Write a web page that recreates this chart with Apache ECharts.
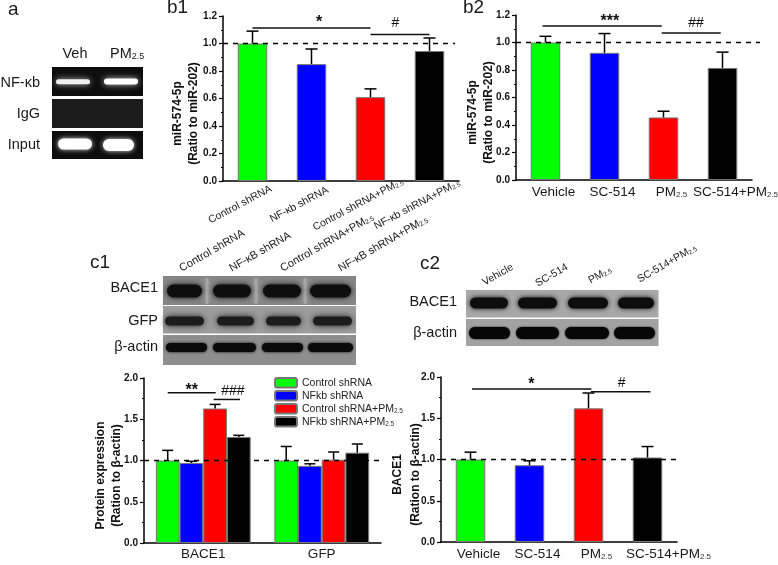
<!DOCTYPE html>
<html><head><meta charset="utf-8">
<style>html,body{margin:0;padding:0;background:#fff}#c{width:778px;height:565px}</style>
<script src="https://cdn.jsdelivr.net/npm/echarts@6/dist/echarts.min.js"></script>
</head><body><div id="c"></div>
<script>
const FONT = 'Liberation Sans';
const barColors = ['#00ff00', '#0000ff', '#ff0000', '#000000'];

// panel b1
const b1Categories = ['Control shRNA', 'NF-κb shRNA', 'Control shRNA+PM2.5', 'NF-κb shRNA+PM2.5'];
const b1Values = [1.0, 0.85, 0.61, 0.945];
const b1Upper = [1.09, 0.96, 0.67, 1.04];
// panel b2
const b2Categories = ['Vehicle', 'SC-514', 'PM2.5', 'SC-514+PM2.5'];
const b2Values = [1.0, 0.925, 0.455, 0.815];
const b2Upper = [1.045, 1.065, 0.5, 0.93];
// panel c1
const c1Categories = ['BACE1', 'GFP'];
const c1Series = ['Control shRNA', 'NFkb shRNA', 'Control shRNA+PM2.5', 'NFkb shRNA+PM2.5'];
const c1Control = [1.0, 1.0];
const c1Nfkb = [0.97, 0.935];
const c1ControlPm = [1.63, 1.01];
const c1NfkbPm = [1.285, 1.095];
const c1ControlUp = [1.123, 1.17];
const c1NfkbUp = [0.99, 0.96];
const c1ControlPmUp = [1.68, 1.103];
const c1NfkbPmUp = [1.305, 1.2];
// panel c2
const c2Categories = ['Vehicle', 'SC-514', 'PM2.5', 'SC-514+PM2.5'];
const c2Values = [1.0, 0.93, 1.62, 1.024];
const c2Upper = [1.089, 0.984, 1.806, 1.157];

// significance brackets: from category, to category, value, label category, label value, label
const b1Brackets = [[0, 2, 1.113, 1.13, 1.165, '*'], [2, 3, 1.066, 2.42, 1.15, '#']];
const b2Brackets = [[-0.05, 1.97, 1.12, 1.09, 1.17, '***'], [1.97, 2.97, 1.069, 2.55, 1.14, '##']];
const c1Brackets = [[-0.3, 0.105, 1.82, -0.098, 1.87, '**'], [0.088, 0.31, 1.74, 0.25, 1.84, '###']];
const c2Brackets = [[0.025, 2.05, 1.855, 1.03, 1.93, '*'], [2.04, 3.05, 1.82, 2.56, 1.93, '#']];

const pm = s => s.replace('PM2.5', 'PM{sub|2.5}');

function xOf(api, c) { return api.coord([0, 0])[0] + c * api.size([1, 0])[0]; }
const LINE = {stroke: '#000', lineWidth: 1.5};

function errorSeries(gridIndex, xs, bases, tops, cap) {
  return {
    type: 'custom', xAxisIndex: gridIndex, yAxisIndex: gridIndex, z: 5, silent: true,
    data: tops.map((t, i) => [0, t]),
    encode: {x: 0, y: 1},
    renderItem(params, api) {
      const i = params.dataIndex, x = xOf(api, xs[i]);
      const yb = api.coord([0, bases[i]])[1], yt = api.coord([0, tops[i]])[1];
      return {type: 'group', children: [
        {type: 'line', shape: {x1: x, y1: yb, x2: x, y2: yt}, style: LINE},
        {type: 'line', shape: {x1: x - cap, y1: yt, x2: x + cap, y2: yt}, style: LINE}
      ]};
    }
  };
}
function refSeries(gridIndex, extra) {
  return {
    type: 'custom', xAxisIndex: gridIndex, yAxisIndex: gridIndex, z: 6, silent: true,
    data: [[0, 1]], encode: {x: 0, y: 1},
    renderItem(params, api) {
      const y = api.coord([0, 1])[1], cs = params.coordSys;
      return {type: 'line', shape: {x1: cs.x, y1: y, x2: cs.x + cs.width + extra, y2: y},
        style: {stroke: '#000', lineWidth: 1.5, lineDash: [5, 5]}};
    }
  };
}
function bracketSeries(gridIndex, list) {
  return {
    type: 'custom', xAxisIndex: gridIndex, yAxisIndex: gridIndex, z: 6, silent: true,
    data: list.map(b => [0, b[2]]), encode: {x: 0, y: 1},
    renderItem(params, api) {
      const b = list[params.dataIndex];
      const y = api.coord([0, b[2]])[1];
      const star = b[5].includes('*');
      return {type: 'group', children: [
        {type: 'line', shape: {x1: xOf(api, b[0]), y1: y, x2: xOf(api, b[1]), y2: y}, style: {stroke: '#111', lineWidth: 1.5}},
        {type: 'text', style: {text: b[5], x: xOf(api, b[3]), y: api.coord([0, b[4]])[1] + (star ? 2 : 0),
          align: 'center', verticalAlign: 'middle', fill: '#111',
          font: (star ? 'bold 16px ' : '14px ') + FONT}}
      ]};
    }
  };
}
function barSeries(gridIndex, values) {
  return {
    type: 'bar', xAxisIndex: gridIndex, yAxisIndex: gridIndex, barWidth: 29.5, z: 2,
    data: values.map((v, i) => ({value: v, itemStyle: {color: barColors[i], borderColor: '#777', borderWidth: 1}}))
  };
}
function yAxis(gridIndex, max, interval, name, nameGap, shift, lineHeight) {
  return {
    type: 'value', gridIndex, min: 0, max, interval, name, nameLocation: 'middle', nameGap, nameRotate: 90,
    nameMoveOverlap: false,
    nameTextStyle: {fontFamily: FONT, fontSize: 12, fontWeight: 'bold', lineHeight: lineHeight || 15.5, color: '#111', padding: [0, shift, 0, 0]},
    axisLine: {show: true, onZero: false, lineStyle: {color: '#000', width: 1.5}},
    axisTick: {show: true, length: 4, lineStyle: {color: '#000', width: 1.2}},
    minorTick: {show: true, splitNumber: 2, length: 2, lineStyle: {color: '#000', width: 1}},
    axisLabel: {fontFamily: FONT, fontSize: 10, fontWeight: 'bold', color: '#111', margin: 6,
      formatter: v => v.toFixed(1)},
    splitLine: {show: false}
  };
}
const subRich = size => ({sub: {fontSize: size, verticalAlign: 'bottom', padding: [size * 0.5, 0, 0, 0], fontFamily: FONT, color: '#333'}});
function xAxis(gridIndex, data, label) {
  return {
    type: 'category', gridIndex, data,
    axisLine: {show: true, lineStyle: {color: '#000', width: 1.5}},
    axisTick: {show: false},
    axisLabel: Object.assign({interval: 0, hideOverlap: false, fontFamily: FONT, color: '#1a1a1a',
      formatter: pm}, label)
  };
}

// the last horizontal label of b2 and c2 sits further right than its bar
function horizontal(lastGap) {
  return {
    fontSize: 13.5, margin: 5, padding: [0, 0, 0, 16],
    rich: Object.assign(subRich(8), {gap: {width: lastGap, fontSize: 8}}),
    formatter: (s, i) => (i === 3 ? '{gap| }' : '') + pm(s)
  };
}

// ---- non-chart artwork: gel and blot panels and their annotations
const els = [];
function blot(x, y, w, h, color) { els.push({type: 'rect', shape: {x, y, width: w, height: h}, style: {fill: color}, z: 1}); }
function band(x1, x2, cy, h, color, blur, glow) {
  els.push({type: 'rect', shape: {x: x1, y: cy - h / 2, width: x2 - x1, height: h, r: h / 2},
    style: {fill: color, shadowBlur: blur, shadowColor: glow || color}, z: 2});
}
function text(t, x, y, size, align, extra) {
  els.push({type: 'text', z: 3, x, y, rotation: extra && extra.rot ? Math.PI / 6 : 0,
    style: {text: t, x: 0, y: 0, align: align || 'left', verticalAlign: extra && extra.rot ? 'bottom' : 'middle',
      font: size + 'px ' + FONT, fill: '#1a1a1a', rich: subRich(size * 0.62)}});
}
// panel a
blot(52, 67, 91, 29, '#0d0d0d'); blot(52, 99, 91, 29, '#1b1b1b'); blot(52, 131, 91, 28, '#0d0d0d');
band(56, 90, 81.7, 5, '#f0f0f0', 6, '#bbbbbb'); band(104, 138, 81.5, 6, '#ffffff', 6, '#cccccc');
band(58, 92, 144, 11, '#ffffff', 5, '#dddddd'); band(103, 134, 145, 12, '#ffffff', 5, '#dddddd');
text('a', 8, 10, 19); text('b1', 167, 8, 19); text('b2', 463, 8, 19); text('c1', 90, 263, 19); text('c2', 420, 264, 19);
text('Veh', 75, 54, 14.5, 'center'); text('PM{sub|2.5}', 110, 54, 14.5);
text('NF-κb', 40, 82.5, 14.5, 'right'); text('IgG', 40, 114, 14.5, 'right'); text('Input', 40, 145, 14.5, 'right');
// panel c1 blots
blot(163, 276, 193, 29, '#858585'); blot(163, 306, 193, 27.5, '#9c9c9c'); blot(163, 335, 193, 30, '#8e8e8e');
[207, 256, 305].forEach(x => band(x - 1.5, x + 1.5, 291, 26, '#a6a6a6', 5));
[[167, 202], [213, 251], [263, 301], [310, 351]].forEach(b => band(b[0], b[1], 291, 13, '#0e0e0e', 5));
[[165, 204], [217, 254], [266, 301], [313, 352]].forEach(b => band(b[0], b[1], 321, 9, '#1c1c1c', 6));
[[166, 207], [213, 256], [262, 303], [308, 353]].forEach(b => band(b[0], b[1], 347.5, 9, '#0a0a0a', 3));
text('BACE1', 158, 288, 14.5, 'right'); text('GFP', 158, 321, 14.5, 'right'); text('β-actin', 158, 347, 14.5, 'right');
[['Control shRNA', 183, 274], ['NF-κB shRNA', 233, 274], ['Control shRNA+PM{sub|2.5}', 284, 274], ['NF-κB shRNA+PM{sub|2.5}', 342, 274]]
  .forEach(l => text(l[0], l[1], l[2], 11, 'left', {rot: true}));
// panel c2 blots
blot(466, 290, 192.5, 27.5, '#a8a8a8'); blot(466, 319, 192.5, 27, '#a2a2a2');
[[470, 508], [518, 557], [568, 608], [618, 654]].forEach(b => band(b[0], b[1], 303, 11, '#0d0d0d', 5));
[[469, 510], [516, 559], [565, 609], [614, 655]].forEach(b => band(b[0], b[1], 333, 12, '#060606', 2));
text('BACE1', 457, 302, 14.5, 'right'); text('β-actin', 457, 333, 14.5, 'right');
[['Vehicle', 486, 288], ['SC-514', 539, 289], ['PM{sub|2.5}', 592, 286], ['SC-514+PM{sub|2.5}', 641, 285]]
  .forEach(l => text(l[0], l[1], l[2], 10.5, 'left', {rot: true}));

const c1Slot = 0.2;
const c1Bases = [c1Control[0], c1Nfkb[0], c1ControlPm[0], c1NfkbPm[0], c1Control[1], c1Nfkb[1], c1ControlPm[1], c1NfkbPm[1]];
const c1Tops = [c1ControlUp[0], c1NfkbUp[0], c1ControlPmUp[0], c1NfkbPmUp[0], c1ControlUp[1], c1NfkbUp[1], c1ControlPmUp[1], c1NfkbPmUp[1]];
const c1Xs = c1Bases.map((_, i) => Math.floor(i / 4) + (i % 4 - 1.5) * c1Slot);
const idx = [0, 1, 2, 3];

const option = {
  animation: false, backgroundColor: '#fff',
  textStyle: {fontFamily: FONT},
  grid: [
    {left: 223, top: 16, width: 236, height: 165, outerBoundsMode: 'none'},
    {left: 516, top: 15, width: 236, height: 165, outerBoundsMode: 'none'},
    {left: 144, top: 378, width: 237, height: 165, outerBoundsMode: 'none'},
    {left: 441, top: 377, width: 236, height: 165, outerBoundsMode: 'none'}
  ],
  xAxis: [
    xAxis(0, b1Categories, {fontSize: 10.5, rotate: 28, align: 'center', verticalAlign: 'middle', margin: 17, padding: [0, 28, 0, 0], rich: subRich(6.5)}),
    xAxis(1, b2Categories, horizontal(10)),
    xAxis(2, c1Categories, {fontSize: 13.5, margin: 4}),
    xAxis(3, c2Categories, horizontal(26))
  ],
  yAxis: [
    yAxis(0, 1.2, 0.2, 'miR-574-5p\n(Ratio to miR-202)', 22, 30),
    yAxis(1, 1.2, 0.2, 'miR-574-5p\n(Ratio to miR-202)', 20, 30),
    yAxis(2, 2, 0.5, 'Protein expression\n(Ration to β-actin)', 19, 30, 16.5),
    yAxis(3, 2, 0.5, 'BACE1\n(Ration to β-actin)', 17, 30, 17.5)
  ],
  legend: {
    orient: 'vertical', left: 274, top: 377, padding: 0, itemWidth: 22, itemHeight: 9.5, itemGap: 1.5,
    data: c1Series, selectedMode: false,
    formatter: pm,
    textStyle: {fontFamily: FONT, fontSize: 10.5, color: '#222', rich: subRich(6.5)}
  },
  series: [
    barSeries(0, b1Values), errorSeries(0, idx, b1Values, b1Upper, 6), refSeries(0, -4), bracketSeries(0, b1Brackets),
    barSeries(1, b2Values), errorSeries(1, idx, b2Values, b2Upper, 6), refSeries(1, 8), bracketSeries(1, b2Brackets),
    barSeries(3, c2Values), errorSeries(3, idx, c2Values, c2Upper, 6), refSeries(3, 0), bracketSeries(3, c2Brackets),
    ...[c1Control, c1Nfkb, c1ControlPm, c1NfkbPm].map((d, i) => ({
      type: 'bar', name: c1Series[i], xAxisIndex: 2, yAxisIndex: 2, data: d, barWidth: 23.7, barGap: 0, z: 2,
      itemStyle: {color: barColors[i], borderColor: '#777', borderWidth: 1}
    })),
    errorSeries(2, c1Xs, c1Bases, c1Tops, 5.5), refSeries(2, 0), bracketSeries(2, c1Brackets)
  ],
  graphic: {elements: els}
};
echarts.init(document.getElementById('c'), null, {renderer: 'canvas'}).setOption(option);
</script></body></html>
